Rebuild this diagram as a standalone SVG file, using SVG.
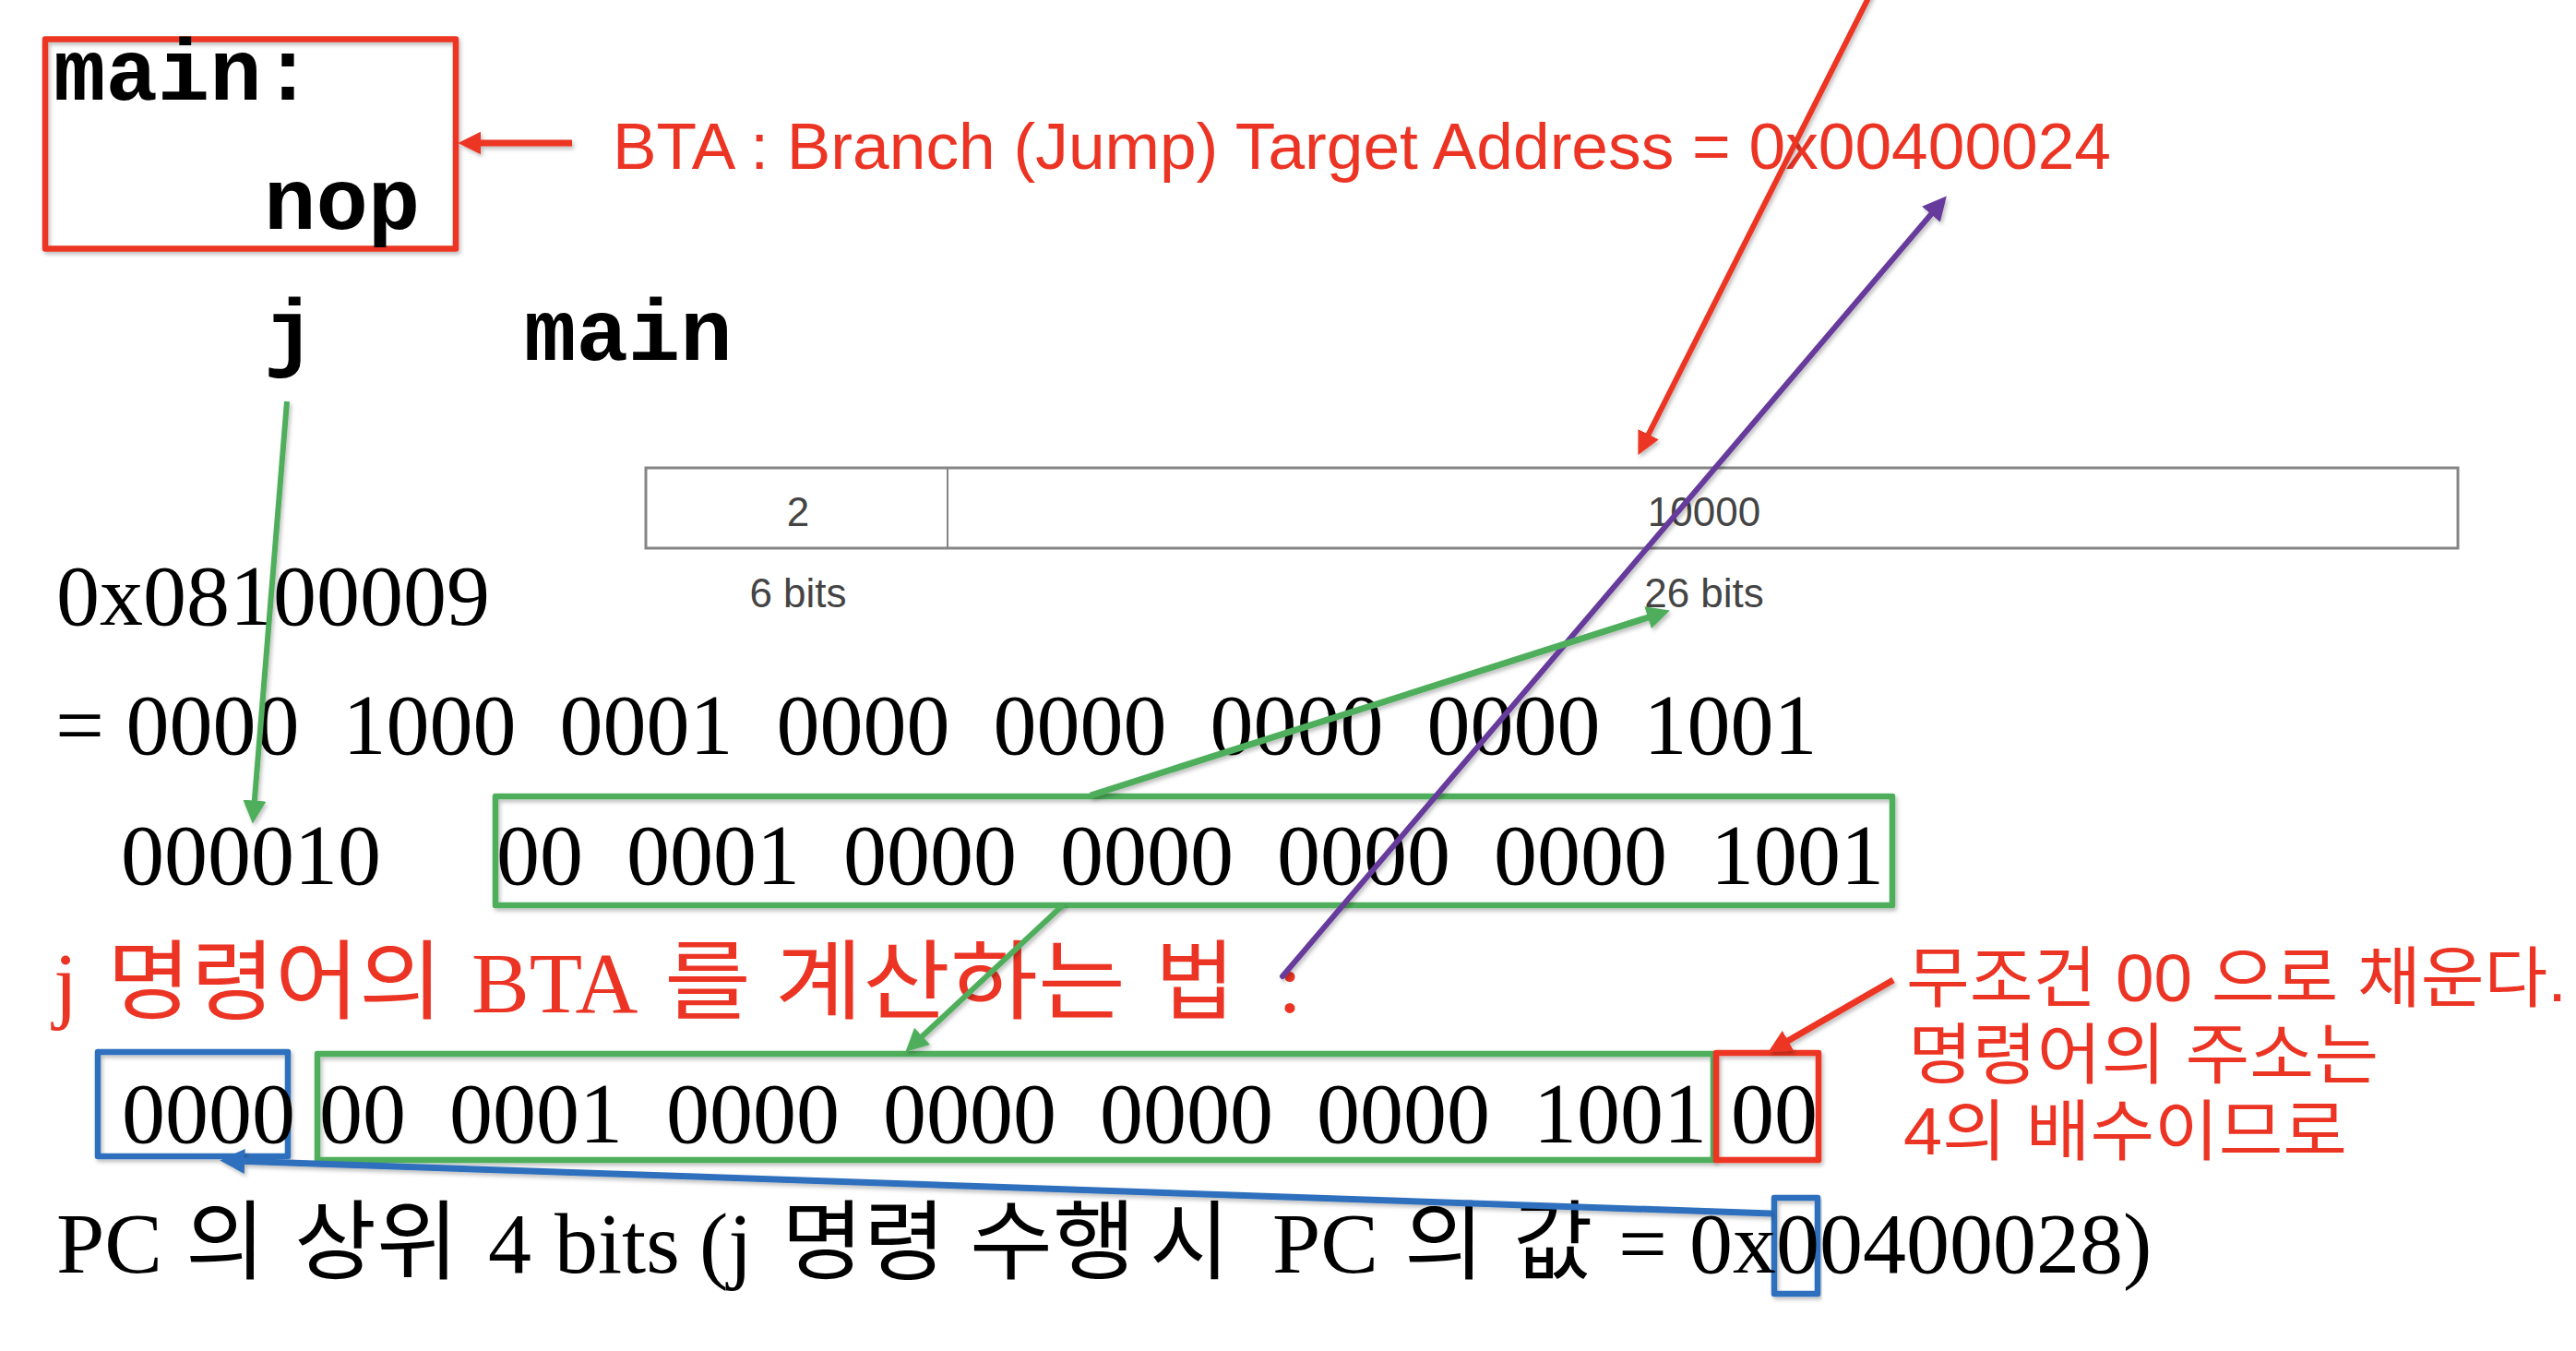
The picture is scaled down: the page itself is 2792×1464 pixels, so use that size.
<svg xmlns="http://www.w3.org/2000/svg" width="2792" height="1464" viewBox="0 0 2792 1464">
<style>
.mono{font-family:"Liberation Mono","Courier New",monospace;font-weight:bold;font-size:94px;fill:#000}
.serif{font-family:"Liberation Serif","Noto Sans CJK KR",serif;font-size:94px;fill:#000;white-space:pre}
.red{fill:#ec3424}
.note{font-family:"Liberation Sans","Noto Sans CJK KR",sans-serif;font-size:72px;fill:#ec3424;white-space:pre}
.bta{font-family:"Liberation Sans",Arial,sans-serif;font-size:70px;fill:#ec3424;white-space:pre}
.tbl{font-family:"Liberation Sans",Arial,sans-serif;font-size:44px;fill:#444;text-anchor:middle}
.box{fill:none;stroke-linejoin:round}
.rbox{stroke:#ec3424;stroke-width:6.5}
.gbox{stroke:#4fae5b;stroke-width:6.5}
.bbox{stroke:#2f6fbd;stroke-width:6.5}
.conn{fill:none}
</style>
<defs>
<filter id="sh" x="-10%" y="-10%" width="120%" height="120%">
<feDropShadow dx="2" dy="3" stdDeviation="2" flood-color="#000" flood-opacity="0.25"/>
</filter>
<marker id="ahR" markerUnits="userSpaceOnUse" viewBox="0 0 24 24" refX="10" refY="12" markerWidth="25" markerHeight="25" orient="auto"><path d="M0,0 L24,12 L0,24 z" fill="#ec3424"/></marker>
<marker id="ahG" markerUnits="userSpaceOnUse" viewBox="0 0 24 24" refX="10" refY="12" markerWidth="25" markerHeight="25" orient="auto"><path d="M0,0 L24,12 L0,24 z" fill="#4fae5b"/></marker>
<marker id="ahB" markerUnits="userSpaceOnUse" viewBox="0 0 24 24" refX="10" refY="12" markerWidth="27" markerHeight="27" orient="auto"><path d="M0,0 L24,12 L0,24 z" fill="#2f6fbd"/></marker>
<marker id="ahP" markerUnits="userSpaceOnUse" viewBox="0 0 24 24" refX="10" refY="12" markerWidth="26" markerHeight="26" orient="auto"><path d="M0,0 L24,12 L0,24 z" fill="#663a9c"/></marker>
</defs>
<rect width="2792" height="1464" fill="#fff"/>

<g id="code-main">
<rect class="box rbox" x="49" y="42.5" width="445" height="227" filter="url(#sh)"/>
<text class="mono" x="58" y="108">main:</text>
<text class="mono" x="286" y="248">nop</text>
</g>

<g id="code-j">
<text class="mono" x="286" y="390">j</text>
<text class="mono" x="568" y="390">main</text>
</g>

<g id="bta-label">
<text class="bta" x="664" y="183" textLength="1624" lengthAdjust="spacingAndGlyphs">BTA : Branch (Jump) Target Address = 0x00400024</text>
</g>

<g id="format-table">
<rect x="700" y="507" width="1964" height="87" fill="none" stroke="#858585" stroke-width="3"/>
<line x1="1027" y1="507" x2="1027" y2="594" stroke="#858585" stroke-width="2"/>
<text class="tbl" x="865" y="570">2</text>
<text class="tbl" x="1847" y="570">10000</text>
<text class="tbl" x="865" y="658">6 bits</text>
<text class="tbl" x="1847" y="658">26 bits</text>
</g>

<g id="hex">
<text class="serif" x="61" y="677">0x08100009</text>
</g>

<g id="binary">
<text class="serif" x="60" y="817">= 0000  1000  0001  0000  0000  0000  0000  1001</text>
</g>

<g id="split">
<text class="serif" x="131" y="958">000010</text>
<rect class="box gbox" x="537" y="863" width="1514" height="118" filter="url(#sh)"/>
<text class="serif" x="538" y="958">00  0001  0000  0000  0000  0000  1001</text>
</g>

<g id="heading">
<text class="serif red" y="1097"><tspan x="58">j</tspan><tspan x="116" textLength="364" lengthAdjust="spacingAndGlyphs">명령어의</tspan><tspan x="511">BTA</tspan><tspan x="720" textLength="94" lengthAdjust="spacingAndGlyphs">를</tspan><tspan x="840" textLength="380" lengthAdjust="spacingAndGlyphs">계산하는</tspan><tspan x="1252">법</tspan><tspan x="1385">:</tspan></text>
</g>

<g id="result">
<rect class="box bbox" x="106" y="1140" width="206" height="113" filter="url(#sh)"/>
<text class="serif" x="132" y="1238">0000</text>
<rect class="box gbox" x="344" y="1142" width="1513" height="115" filter="url(#sh)"/>
<text class="serif" x="346" y="1238">00  0001  0000  0000  0000  0000  1001</text>
<rect class="box rbox" x="1860" y="1141" width="111" height="116" filter="url(#sh)"/>
<text class="serif" x="1876" y="1238">00</text>
</g>

<g id="note">
<text class="note" x="2066" y="1085" textLength="716" lengthAdjust="spacingAndGlyphs">무조건 00 으로 채운다.</text>
<text class="note" x="2068" y="1168" textLength="510" lengthAdjust="spacingAndGlyphs">명령어의 주소는</text>
<text class="note" x="2063" y="1251" textLength="481" lengthAdjust="spacingAndGlyphs">4의 배수이므로</text>
</g>

<g id="pc-line">
<rect class="box bbox" x="1923" y="1298" width="47" height="104" filter="url(#sh)"/>
<text class="serif" y="1379"><tspan x="61">PC</tspan><tspan x="201">의</tspan><tspan x="319" textLength="178" lengthAdjust="spacingAndGlyphs">상위</tspan><tspan x="529">4</tspan><tspan x="601">bits</tspan><tspan x="758">(j</tspan><tspan x="847" textLength="178" lengthAdjust="spacingAndGlyphs">명령</tspan><tspan x="1051" textLength="180" lengthAdjust="spacingAndGlyphs">수행</tspan><tspan x="1246">시</tspan><tspan x="1379">PC</tspan><tspan x="1522">의</tspan><tspan x="1640">값</tspan><tspan x="1754">=</tspan><tspan x="1831">0x00400028)</tspan></text>
</g>

<g id="connectors" class="conn" filter="url(#sh)">
<line x1="620" y1="155" x2="511" y2="155" stroke="#ec3424" stroke-width="7" marker-end="url(#ahR)"/>
<line x1="2030" y1="-12" x2="1782" y2="480" stroke="#ec3424" stroke-width="6" marker-end="url(#ahR)"/>
<line x1="1390" y1="1058" x2="2100" y2="224" stroke="#663a9c" stroke-width="6" stroke-linecap="round" marker-end="url(#ahP)"/>
<line x1="311" y1="435" x2="275" y2="878" stroke="#4fae5b" stroke-width="6" marker-end="url(#ahG)"/>
<line x1="1182" y1="862" x2="1796" y2="666" stroke="#4fae5b" stroke-width="7" marker-end="url(#ahG)"/>
<line x1="1153" y1="980" x2="992" y2="1130" stroke="#4fae5b" stroke-width="6" marker-end="url(#ahG)"/>
<line x1="2052" y1="1062" x2="1929" y2="1133" stroke="#ec3424" stroke-width="7" marker-end="url(#ahR)"/>
<line x1="1920" y1="1315" x2="254" y2="1258" stroke="#2f6fbd" stroke-width="7" marker-end="url(#ahB)"/>
</g>
</svg>
